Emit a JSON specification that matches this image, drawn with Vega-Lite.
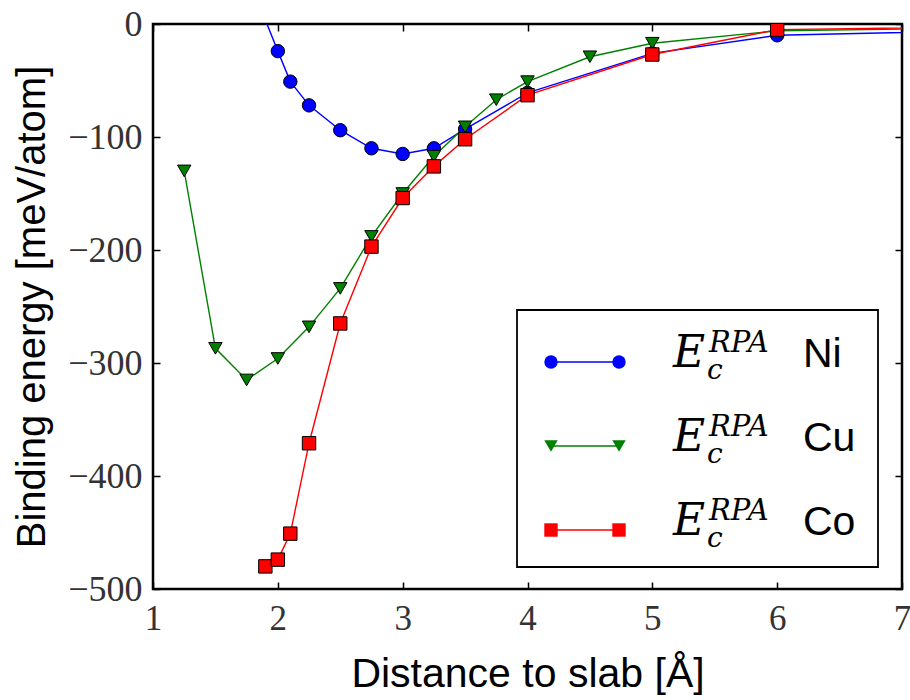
{
  "$schema": "https://vega.github.io/schema/vega-lite/v6.json",
  "width": 749,
  "height": 565,
  "autosize": {"type": "none"},
  "padding": {"left": 153, "top": 24, "right": 8, "bottom": 111},
  "background": "white",
  "config": {
    "view": {"stroke": "black", "strokeWidth": 2.5},
    "axis": {"grid": false, "domain": false, "tickColor": "black", "tickWidth": 1.5, "tickSize": -7, "labelFlush": false, "labelOverlap": false},
    "legend": {"title": null, "padding": 0, "clipHeight": 80, "rowPadding": 4, "labelColor": "black", "labelLimit": 0}
  },
  "data": {
    "values": [
      {"series": "Ni", "d": 1.75, "e": 45},
      {"series": "Ni", "d": 2.0, "e": -24},
      {"series": "Ni", "d": 2.1, "e": -51},
      {"series": "Ni", "d": 2.25, "e": -72},
      {"series": "Ni", "d": 2.5, "e": -94},
      {"series": "Ni", "d": 2.75, "e": -110},
      {"series": "Ni", "d": 3.0, "e": -115},
      {"series": "Ni", "d": 3.25, "e": -110},
      {"series": "Ni", "d": 3.5, "e": -93},
      {"series": "Ni", "d": 4.0, "e": -61},
      {"series": "Ni", "d": 5.0, "e": -26},
      {"series": "Ni", "d": 6.0, "e": -10},
      {"series": "Ni", "d": 8.0, "e": -5},
      {"series": "Cu", "d": 1.25, "e": -130},
      {"series": "Cu", "d": 1.5, "e": -287},
      {"series": "Cu", "d": 1.75, "e": -315},
      {"series": "Cu", "d": 2.0, "e": -296},
      {"series": "Cu", "d": 2.25, "e": -268},
      {"series": "Cu", "d": 2.5, "e": -234},
      {"series": "Cu", "d": 2.75, "e": -188},
      {"series": "Cu", "d": 3.0, "e": -150},
      {"series": "Cu", "d": 3.25, "e": -117},
      {"series": "Cu", "d": 3.5, "e": -91},
      {"series": "Cu", "d": 3.75, "e": -67},
      {"series": "Cu", "d": 4.0, "e": -51},
      {"series": "Cu", "d": 4.5, "e": -29},
      {"series": "Cu", "d": 5.0, "e": -17},
      {"series": "Cu", "d": 6.0, "e": -6},
      {"series": "Cu", "d": 8.0, "e": -3},
      {"series": "Co", "d": 1.9, "e": -480},
      {"series": "Co", "d": 2.0, "e": -474},
      {"series": "Co", "d": 2.1, "e": -451},
      {"series": "Co", "d": 2.25, "e": -371},
      {"series": "Co", "d": 2.5, "e": -265},
      {"series": "Co", "d": 2.75, "e": -197},
      {"series": "Co", "d": 3.0, "e": -154},
      {"series": "Co", "d": 3.25, "e": -126},
      {"series": "Co", "d": 3.5, "e": -102},
      {"series": "Co", "d": 4.0, "e": -63},
      {"series": "Co", "d": 5.0, "e": -27},
      {"series": "Co", "d": 6.0, "e": -5},
      {"series": "Co", "d": 8.0, "e": -2}
    ]
  },
  "resolve": {
    "scale": {"color": "independent", "shape": "independent", "fill": "independent"},
    "axis": {"x": "independent", "y": "independent"},
    "legend": {"color": "independent", "shape": "independent", "fill": "independent"}
  },
  "layer": [
    {
      "mark": {"type": "line", "clip": true, "strokeWidth": 1.4},
      "encoding": {
        "x": {"field": "d", "type": "quantitative", "scale": {"domain": [1, 7], "nice": false, "zero": false},
          "axis": {"orient": "bottom", "values": [1, 2, 3, 4, 5, 6, 7], "format": "d", "title": "Distance to slab [Å]",
            "labelFont": "Liberation Serif", "labelFontSize": 35, "labelColor": "#333", "labelPadding": 19,
            "titleFont": "Liberation Sans", "titleFontSize": 41, "titleFontWeight": "normal", "titleColor": "black", "titlePadding": 18}},
        "y": {"field": "e", "type": "quantitative", "scale": {"domain": [-500, 0], "nice": false, "zero": false},
          "axis": {"orient": "left", "values": [-500, -400, -300, -200, -100, 0], "format": "d", "title": "Binding energy [meV/atom]",
            "labelFont": "Liberation Serif", "labelFontSize": 36, "labelColor": "#333", "labelPadding": 18,
            "titleFont": "Liberation Sans", "titleFontSize": 40, "titleFontWeight": "normal", "titleColor": "black", "titlePadding": 15}},
        "color": {"field": "series", "type": "nominal",
          "scale": {"domain": ["Ni", "Cu", "Co"], "range": ["#0000ff", "#008000", "#ff0000"]},
          "legend": {"orient": "none", "legendX": 364, "legendY": 286, "title": " ", "titleFontSize": 1, "titlePadding": 14,
            "padding": 7, "strokeColor": "black", "symbolType": "stroke", "symbolSize": 4624, "symbolStrokeWidth": 1.4,
            "symbolOffset": 26, "labelFontSize": 36, "labelOffset": 251, "labelExpr": "''", "clipHeight": 60, "rowPadding": 24,
            "encode": {"legend": {"update": {"strokeWidth": {"value": 1.8}}}}}}
      }
    },
    {
      "mark": {"type": "point", "clip": true, "filled": true, "size": 180, "stroke": "black", "strokeWidth": 1, "opacity": 1},
      "encoding": {
        "x": {"field": "d", "type": "quantitative", "axis": null},
        "y": {"field": "e", "type": "quantitative", "axis": null},
        "shape": {"field": "series", "type": "nominal", "scale": {"domain": ["Ni", "Cu", "Co"], "range": ["circle", "triangle-down", "square"]}, "legend": null},
        "fill": {"field": "series", "type": "nominal", "scale": {"domain": ["Ni", "Cu", "Co"], "range": ["#0000ff", "#008000", "#ff0000"]}, "legend": null}
      }
    },
    {
      "transform": [{"filter": "false"}],
      "mark": {"type": "point", "filled": true, "size": 180, "stroke": "black", "strokeWidth": 1, "opacity": 1},
      "encoding": {
        "x": {"field": "d", "type": "quantitative",
          "axis": {"orient": "top", "values": [1, 2, 3, 4, 5, 6, 7], "labels": false, "title": null}},
        "y": {"field": "e", "type": "quantitative",
          "axis": {"orient": "right", "values": [-500, -400, -300, -200, -100, 0], "labels": false, "title": null}},
        "shape": {"field": "series", "type": "nominal", "scale": {"domain": ["Ni", "Cu", "Co"], "range": ["circle", "triangle-down", "square"]},
          "legend": {"orient": "none", "legendX": 377, "legendY": 298, "symbolSize": 180,
            "symbolStrokeColor": "black", "symbolStrokeWidth": 1, "labelExpr": "''", "labelFontSize": 42}},
        "fill": {"field": "series", "type": "nominal", "scale": {"domain": ["Ni", "Cu", "Co"], "range": ["#0000ff", "#008000", "#ff0000"]},
          "legend": {"orient": "none", "legendX": 377, "legendY": 298, "symbolSize": 180,
            "symbolStrokeColor": "black", "symbolStrokeWidth": 1, "labelExpr": "''", "labelFontSize": 42}}
      }
    },
    {
      "transform": [{"filter": "false"}],
      "mark": {"type": "point", "filled": true, "size": 180, "stroke": "black", "strokeWidth": 1, "opacity": 1},
      "encoding": {
        "x": {"field": "d", "type": "quantitative", "axis": null},
        "y": {"field": "e", "type": "quantitative", "axis": null},
        "shape": {"field": "series", "type": "nominal", "scale": {"domain": ["Ni", "Cu", "Co"], "range": ["circle", "triangle-down", "square"]},
          "legend": {"orient": "none", "legendX": 452, "legendY": 298, "symbolSize": 180,
            "symbolStrokeColor": "black", "symbolStrokeWidth": 1, "labelExpr": "''", "labelFontSize": 28}},
        "fill": {"field": "series", "type": "nominal", "scale": {"domain": ["Ni", "Cu", "Co"], "range": ["#0000ff", "#008000", "#ff0000"]},
          "legend": {"orient": "none", "legendX": 452, "legendY": 298, "symbolSize": 180,
            "symbolStrokeColor": "black", "symbolStrokeWidth": 1, "labelExpr": "''", "labelFontSize": 28}}
      }
    },
    {
      "transform": [{"filter": "false"}],
      "mark": {"type": "point", "size": 180},
      "encoding": {
        "x": {"field": "d", "type": "quantitative", "axis": null},
        "y": {"field": "e", "type": "quantitative", "axis": null},
        "shape": {"field": "series", "type": "nominal", "scale": {"domain": ["Ni", "Cu", "Co"], "range": ["circle", "circle", "circle"]},
          "legend": {"orient": "none", "legendX": 476, "legendY": 289.8, "symbolSize": 180, "symbolOpacity": 0,
            "labelExpr": "'E'", "labelFont": "DejaVu Serif", "labelFontStyle": "italic", "labelFontSize": 44, "labelOffset": 0}}
      }
    },
    {
      "transform": [{"filter": "false"}],
      "mark": {"type": "point", "size": 180},
      "encoding": {
        "x": {"field": "d", "type": "quantitative", "axis": null},
        "y": {"field": "e", "type": "quantitative", "axis": null},
        "shape": {"field": "series", "type": "nominal", "scale": {"domain": ["Ni", "Cu", "Co"], "range": ["circle", "circle", "circle"]},
          "legend": {"orient": "none", "legendX": 527, "legendY": 279.3, "symbolSize": 180, "symbolOpacity": 0,
            "labelExpr": "'RPA'", "labelFont": "DejaVu Serif", "labelFontStyle": "italic", "labelFontSize": 29, "labelOffset": 0}}
      }
    },
    {
      "transform": [{"filter": "false"}],
      "mark": {"type": "point", "size": 180},
      "encoding": {
        "x": {"field": "d", "type": "quantitative", "axis": null},
        "y": {"field": "e", "type": "quantitative", "axis": null},
        "shape": {"field": "series", "type": "nominal", "scale": {"domain": ["Ni", "Cu", "Co"], "range": ["circle", "circle", "circle"]},
          "legend": {"orient": "none", "legendX": 526, "legendY": 306.6, "symbolSize": 180, "symbolOpacity": 0,
            "labelExpr": "'c'", "labelFont": "DejaVu Serif", "labelFontStyle": "italic", "labelFontSize": 28, "labelOffset": 0}}
      }
    },
    {
      "transform": [{"filter": "false"}],
      "mark": {"type": "point", "size": 180},
      "encoding": {
        "x": {"field": "d", "type": "quantitative", "axis": null},
        "y": {"field": "e", "type": "quantitative", "axis": null},
        "shape": {"field": "series", "type": "nominal", "scale": {"domain": ["Ni", "Cu", "Co"], "range": ["circle", "circle", "circle"]},
          "legend": {"orient": "none", "legendX": 609, "legendY": 290.7, "symbolSize": 180, "symbolOpacity": 0,
            "labelFont": "Liberation Sans", "labelFontSize": 41, "labelOffset": 0}}
      }
    }
  ]
}
